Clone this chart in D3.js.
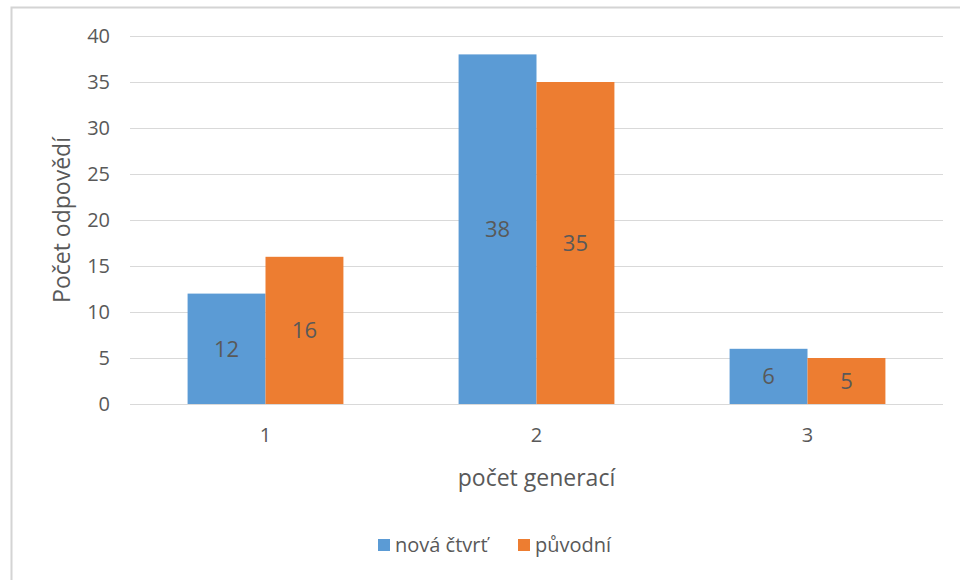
<!DOCTYPE html>
<html>
<head>
<meta charset="utf-8">
<script src="https://cdn.jsdelivr.net/npm/d3@7"></script>
<style>
    body { margin: 0; background: #fff; }
    text { font-family: "Open Sans", "Noto Sans", sans-serif; fill: #595959; }
</style>
</head>
<body>
<svg width="960" height="580"></svg>
<script>
// data
var categories = ["1", "2", "3"];
var seriesNames = ["nová čtvrť", "původní"];
var novaCtvrt = [12, 38, 6];
var puvodni = [16, 35, 5];
var yTicks = [0, 5, 10, 15, 20, 25, 30, 35, 40];

(function () {
    var colors = ["#5B9BD5", "#ED7D31"];
    var svg = d3.select("svg");
    var margin = { top: 36, left: 130, right: 17, bottom: 176 };
    var width = 960 - margin.left - margin.right;
    var height = 580 - margin.top - margin.bottom;

    // outer chart frame
    svg.append("rect")
        .attr("x", 11.5).attr("y", 7.5)
        .attr("width", 960).attr("height", 600)
        .attr("fill", "none")
        .attr("stroke", "#d4d4d4")
        .attr("stroke-width", 2);

    var rows = categories.map(function (c, i) {
        return { cat: c, values: [novaCtvrt[i], puvodni[i]] };
    });

    var x0 = d3.scaleBand().domain(categories).range([0, width]).paddingInner(0.425).paddingOuter(0.2125);
    var x1 = d3.scaleBand().domain([0, 1]).range([0, x0.bandwidth()]);
    var y = d3.scaleLinear().domain([0, 40]).range([height, 0]);

    var g = svg.append("g")
        .attr("transform", "translate(" + margin.left + "," + margin.top + ")");

    // gridlines
    g.append("g")
        .selectAll("line")
        .data(yTicks)
        .enter().append("line")
        .attr("x1", 0).attr("x2", width)
        .attr("y1", function (d) { return Math.round(y(d)) + 0.5; })
        .attr("y2", function (d) { return Math.round(y(d)) + 0.5; })
        .attr("stroke", "#d9d9d9")
        .attr("stroke-width", 1);

    // y axis labels
    var yAxis = g.append("g")
        .call(d3.axisLeft(y).tickValues(yTicks).tickSize(0).tickPadding(20));
    yAxis.select(".domain").remove();
    yAxis.selectAll("text").style("font-size", "20px").attr("fill", "#595959");

    // x axis labels
    var xAxis = g.append("g")
        .attr("transform", "translate(0," + height + ")")
        .call(d3.axisBottom(x0).tickSize(0).tickPadding(24));
    xAxis.select(".domain").remove();
    xAxis.selectAll("text").style("font-size", "20px").attr("fill", "#595959");

    // bars
    var groups = g.selectAll(".grp")
        .data(rows)
        .enter().append("g")
        .attr("class", "grp")
        .attr("transform", function (d) { return "translate(" + x0(d.cat) + ",0)"; });

    groups.selectAll("rect")
        .data(function (d) { return d.values; })
        .enter().append("rect")
        .attr("x", function (d, i) { return x1(i); })
        .attr("y", function (d) { return y(d); })
        .attr("width", x1.bandwidth())
        .attr("height", function (d) { return height - y(d); })
        .attr("fill", function (d, i) { return colors[i]; });

    groups.selectAll(".lbl")
        .data(function (d) { return d.values; })
        .enter().append("text")
        .attr("class", "lbl")
        .attr("x", function (d, i) { return x1(i) + x1.bandwidth() / 2; })
        .attr("y", function (d) { return (y(d) + height) / 2; })
        .attr("dy", "0.35em")
        .attr("text-anchor", "middle")
        .style("font-size", "22px")
        .attr("fill", "#404040")
        .text(function (d) { return d; });

    // axis titles
    svg.append("text")
        .attr("transform", "translate(70," + (margin.top + height / 2) + ") rotate(-90)")
        .attr("text-anchor", "middle")
        .style("font-size", "23px")
        .text("Počet odpovědí");

    svg.append("text")
        .attr("x", margin.left + width / 2)
        .attr("y", 486)
        .attr("text-anchor", "middle")
        .style("font-size", "23px")
        .text("počet generací");

    // legend
    var legend = svg.append("g").attr("transform", "translate(378,545)");
    var lx = [0, 140];
    seriesNames.forEach(function (name, i) {
        legend.append("rect")
            .attr("x", lx[i]).attr("y", -6)
            .attr("width", 12).attr("height", 12)
            .attr("fill", colors[i]);
        legend.append("text")
            .attr("x", lx[i] + 17).attr("y", 0)
            .attr("dy", "0.35em")
            .style("font-size", "20px")
            .text(name);
    });
}());
</script>
</body>
</html>
